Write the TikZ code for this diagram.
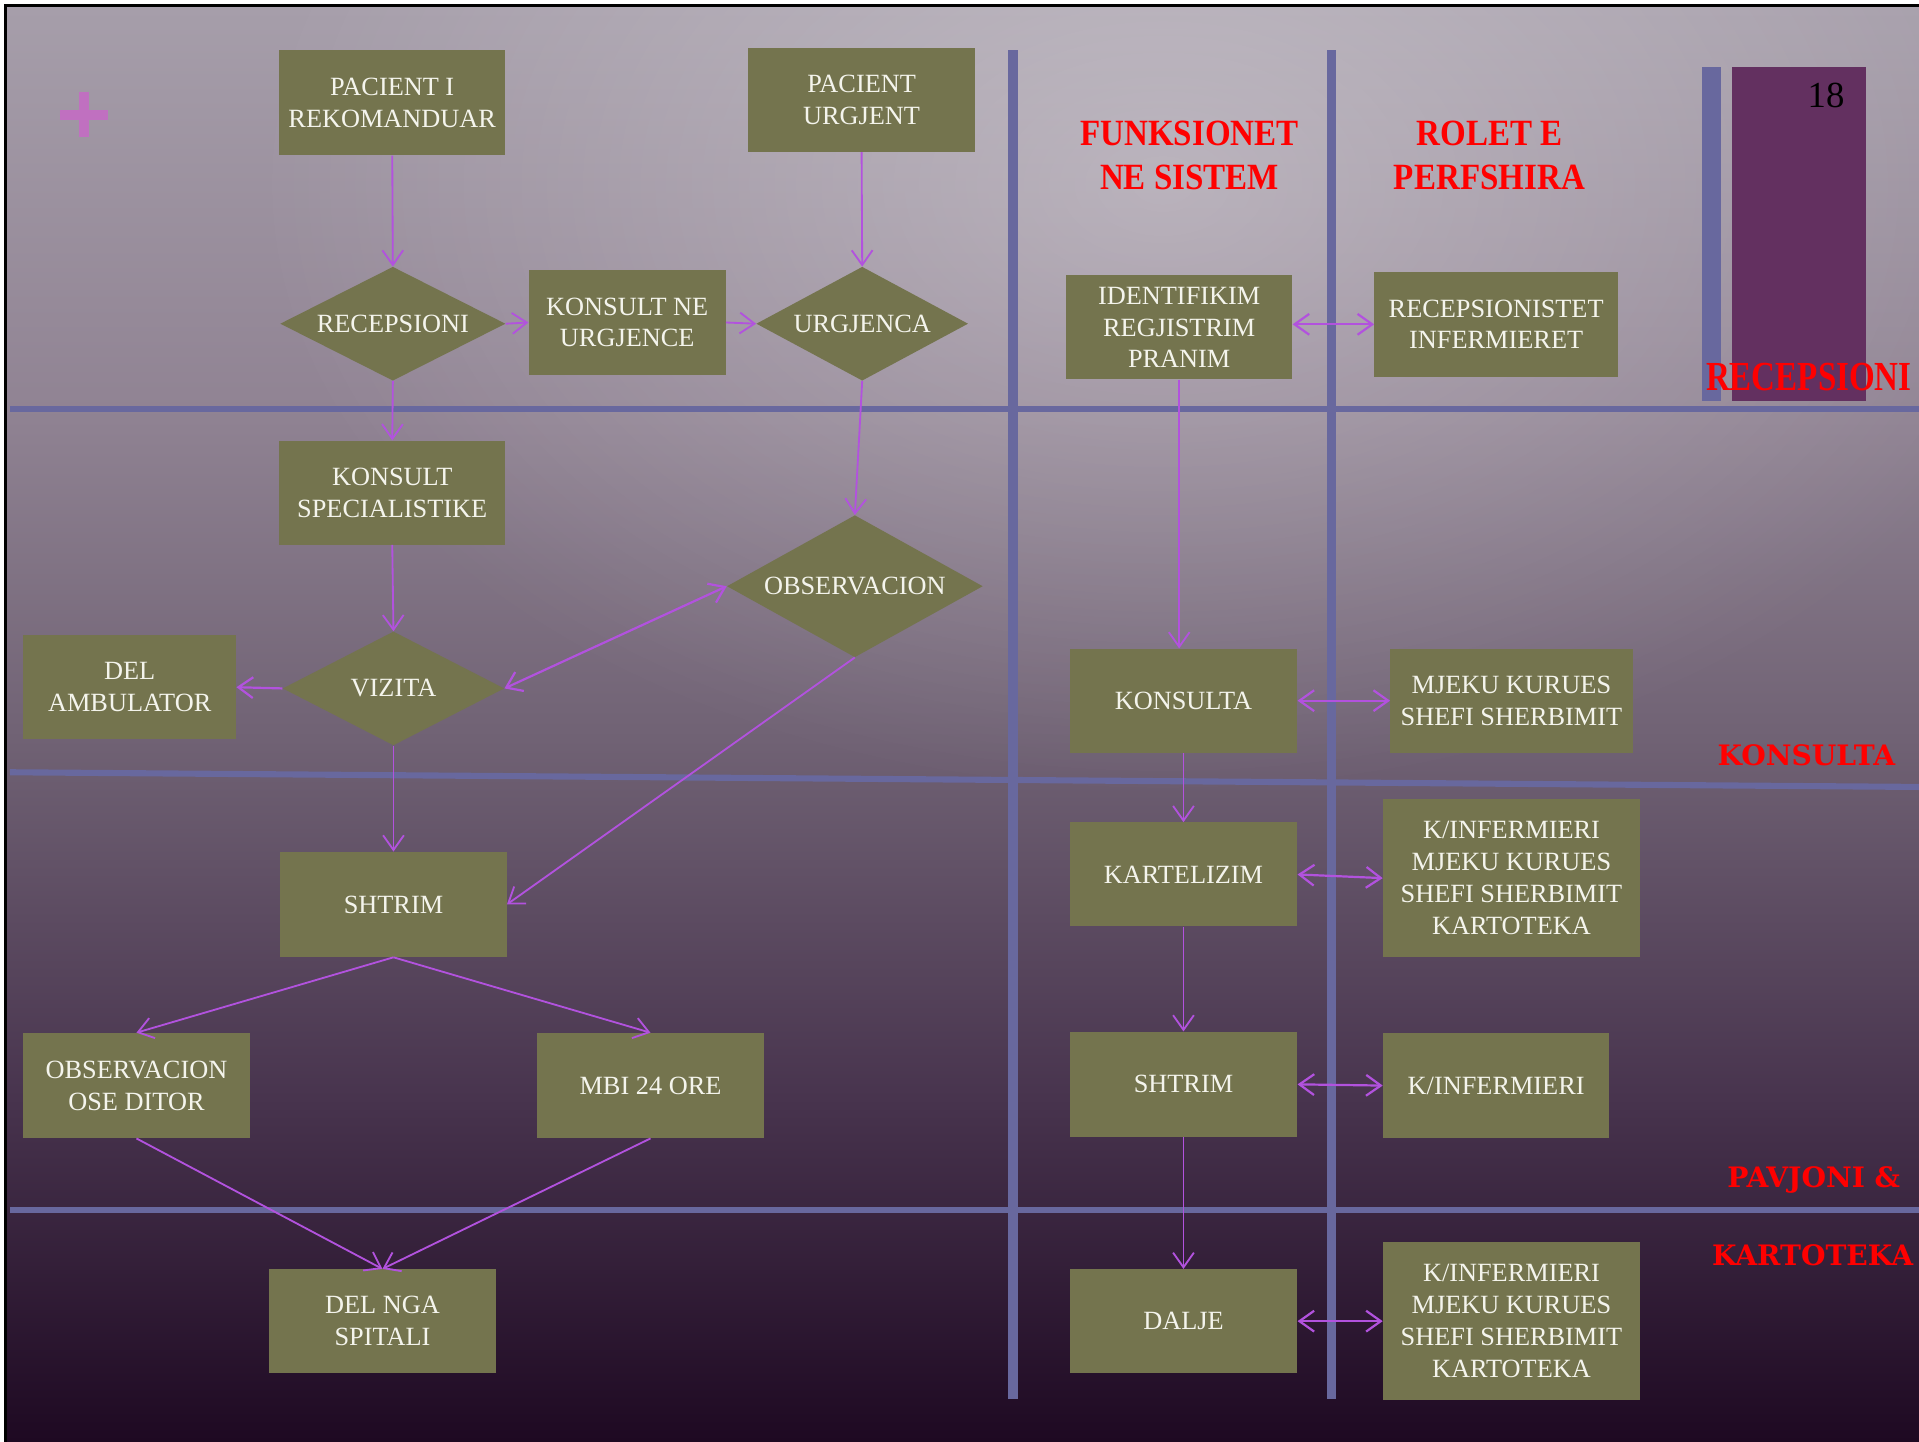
\documentclass[tikz,border=0pt]{standalone}
\usepackage{fontspec}
\setmainfont{Liberation Serif}
\newfontfamily\slabfont{DejaVu Serif}
\usetikzlibrary{shapes.geometric,arrows.meta,fadings}
\definecolor{nodefill}{RGB}{116,116,78}
\definecolor{linec}{RGB}{104,104,158}
\definecolor{arrowc}{RGB}{178,82,222}
\definecolor{boxtext}{RGB}{244,244,236}
\definecolor{purplebox}{RGB}{99,48,96}
\definecolor{plusc}{RGB}{192,112,192}
\definecolor{bgA}{RGB}{30,9,34}
\definecolor{bgB}{RGB}{72,52,78}
\definecolor{bgC}{RGB}{112,98,116}
\definecolor{bgD}{RGB}{144,131,147}
\definecolor{bgE}{RGB}{166,158,170}
\pgfdeclareverticalshading{bgshade}{100bp}{color(0bp)=(bgA); color(25bp)=(bgA); color(37bp)=(bgB); color(49.5bp)=(bgC); color(61bp)=(bgD); color(75bp)=(bgE); color(100bp)=(bgE)}
\tikzfading[name=softspot, inner color=transparent!0, outer color=transparent!100]
\begin{document}
\begin{tikzpicture}[x=1pt,y=-1pt,
 box/.style={rectangle, fill=nodefill, text=boxtext, inner sep=0pt, align=center, font=\fontsize{21.5}{26}\selectfont},
 dia/.style={diamond, shape aspect=2, fill=nodefill, text=boxtext, inner sep=0pt, align=center, font=\fontsize{21.5}{26}\selectfont},
 lbl/.style={text=red, font=\bfseries\fontsize{27}{32}\selectfont, align=center, inner sep=0pt},
 lanelbl/.style={text=red, font=\slabfont\bfseries\fontsize{23}{28}\selectfont, inner sep=0pt},
 arr/.style={draw=arrowc, line width=1.5pt, -{Straight Barb[length=12pt,width=17pt]}},
 biarr/.style={draw=arrowc, line width=1.8pt, {Straight Barb[length=12pt,width=17pt]}-{Straight Barb[length=12pt,width=17pt]}},
 lane/.style={draw=linec, line width=5pt},
 vlane/.style={draw=linec, line width=8pt}]
\useasboundingbox (0,0) rectangle (1568,1178);
\fill[white] (0,0) rectangle (1568,1178);
\shade[shading=bgshade] (5.7,5.7) rectangle (1568,1178);
\begin{scope}
\clip (5.7,5.7) rectangle (1568,1178);
\fill[white, fill opacity=0.3, path fading=softspot, fit fading=true] (200,-350) rectangle (1700,650);
\end{scope}
\draw[black, line width=2.4pt] (4.5,1178) -- (4.5,4.5) -- (1568,4.5);

% plus sign
\draw[plusc, line width=8pt] (49,94) -- (88,94);
\draw[plusc, line width=8pt] (68.5,75) -- (68.5,112);

% lanes
\draw[lane] (8,334) -- (1568,334);
\draw[lane] (8,631) -- (1568,643);
\draw[lane] (8,989) -- (1568,989);
\draw[vlane] (828,41) -- (828,1143);
\draw[vlane] (1088,41) -- (1088,1143);

% right bar and purple box
\fill[linec] (1391,55) rectangle (1406,328);
\fill[purplebox] (1415,55) rectangle (1525,328);
\node[inner sep=0pt, text=black, font=\fontsize{30}{30}\selectfont] (num) at (1492,78) {18};

% headings and lane labels
\node[lbl, yscale=1.12] (hfun) at (972,127) {FUNKSIONET\\NE SISTEM};
\node[lbl, yscale=1.12] (hrol) at (1217,127) {ROLET E\\PERFSHIRA};
\node[lbl, yscale=1.25] (lrec) at (1478,308) {RECEPSIONI};
\node[lanelbl] (lkon) at (1476,617) {KONSULTA};
\node[lanelbl] (lpav) at (1482,964) {PAVJONI \&};
\node[lanelbl] (lkar) at (1481,1026) {KARTOTEKA};

% left flow
\node[box, minimum width=185pt, minimum height=86pt] (pri) at (320.5,84) {PACIENT I\\REKOMANDUAR};
\node[box, minimum width=186pt, minimum height=85pt] (pur) at (704,81.5) {PACIENT\\URGJENT};
\node[dia, minimum width=184pt, minimum height=93pt] (rec) at (321,264.5) {RECEPSIONI};
\node[box, minimum width=161pt, minimum height=85pt] (knu) at (512.5,263.5) {KONSULT NE\\URGJENCE};
\node[dia, minimum width=173pt, minimum height=93pt] (urg) at (704.5,264.5) {URGJENCA};
\node[box, minimum width=185pt, minimum height=85pt] (ksp) at (320.5,402.5) {KONSULT\\SPECIALISTIKE};
\node[dia, shape aspect=1.8, minimum width=209pt, minimum height=116pt] (obs) at (698.5,479) {OBSERVACION};
\node[dia, minimum width=181pt, minimum height=93pt] (viz) at (321.5,562.5) {VIZITA};
\node[box, minimum width=174pt, minimum height=85pt] (amb) at (106,561.5) {DEL\\AMBULATOR};
\node[box, minimum width=185pt, minimum height=86pt] (sht) at (321.5,739) {SHTRIM};
\node[box, minimum width=185pt, minimum height=86pt] (ose) at (111.5,887) {OBSERVACION\\OSE DITOR};
\node[box, minimum width=185pt, minimum height=86pt] (mbi) at (531.5,887) {MBI 24 ORE};
\node[box, minimum width=185pt, minimum height=85pt] (dns) at (312.5,1079.5) {DEL NGA\\SPITALI};

% middle column
\node[box, minimum width=185pt, minimum height=85pt] (ide) at (963.5,267.5) {IDENTIFIKIM\\REGJISTRIM\\PRANIM};
\node[box, minimum width=186pt, minimum height=85pt] (kon) at (967,572.5) {KONSULTA};
\node[box, minimum width=186pt, minimum height=85pt] (kar) at (967,714.5) {KARTELIZIM};
\node[box, minimum width=186pt, minimum height=86pt] (sh2) at (967,886) {SHTRIM};
\node[box, minimum width=186pt, minimum height=85pt] (dal) at (967,1079.5) {DALJE};

% right column
\node[box, minimum width=199pt, minimum height=86pt] (rrec) at (1222.5,265) {RECEPSIONISTET\\INFERMIERET};
\node[box, minimum width=198pt, minimum height=85pt] (rmj) at (1235,572.5) {MJEKU KURUES\\SHEFI SHERBIMIT};
\node[box, minimum width=210pt, minimum height=129pt] (rk1) at (1235,717.5) {K/INFERMIERI\\MJEKU KURUES\\SHEFI SHERBIMIT\\KARTOTEKA};
\node[box, minimum width=185pt, minimum height=86pt] (rk2) at (1222.5,887) {K/INFERMIERI};
\node[box, minimum width=210pt, minimum height=129pt] (rk3) at (1235,1079.5) {K/INFERMIERI\\MJEKU KURUES\\SHEFI SHERBIMIT\\KARTOTEKA};

% connectors left
\draw[arr] (pri.south) -- (rec.north);
\draw[arr] (rec.east) -- (knu.west);
\draw[arr] (knu.east) -- (urg.west);
\draw[arr] (pur.south) -- (urg.north);
\draw[arr] (rec.south) -- (ksp.north);
\draw[arr] (urg.south) -- (obs.north);
\draw[arr] (ksp.south) -- (viz.north);
\draw[biarr] (viz.east) -- (obs.west);
\draw[arr, line width=1.8pt] (viz.west) -- (amb.east);
\draw[arr] (viz.south) -- (sht.north);
\draw[arr] (obs.south) -- (sht.east);
\draw[arr] (sht.south) -- (ose.north);
\draw[arr] (sht.south) -- (mbi.north);
\draw[arr] (ose.south) -- (dns.north);
\draw[arr] (mbi.south) -- (dns.north);

% connectors middle
\draw[arr] (ide.south) -- (ide.south |- kon.north);
\draw[arr] (kon.south) -- (kar.north);
\draw[arr] (kar.south) -- (sh2.north);
\draw[arr] (sh2.south) -- (dal.north);

% connectors to roles
\draw[biarr] (rrec.west -| ide.east) -- (rrec.west);
\draw[biarr] (kon.east) -- (rmj.west);
\draw[biarr] (kar.east) -- (rk1.west);
\draw[biarr] (sh2.east) -- (rk2.west);
\draw[biarr] (dal.east) -- (rk3.west);
\end{tikzpicture}
\end{document}
